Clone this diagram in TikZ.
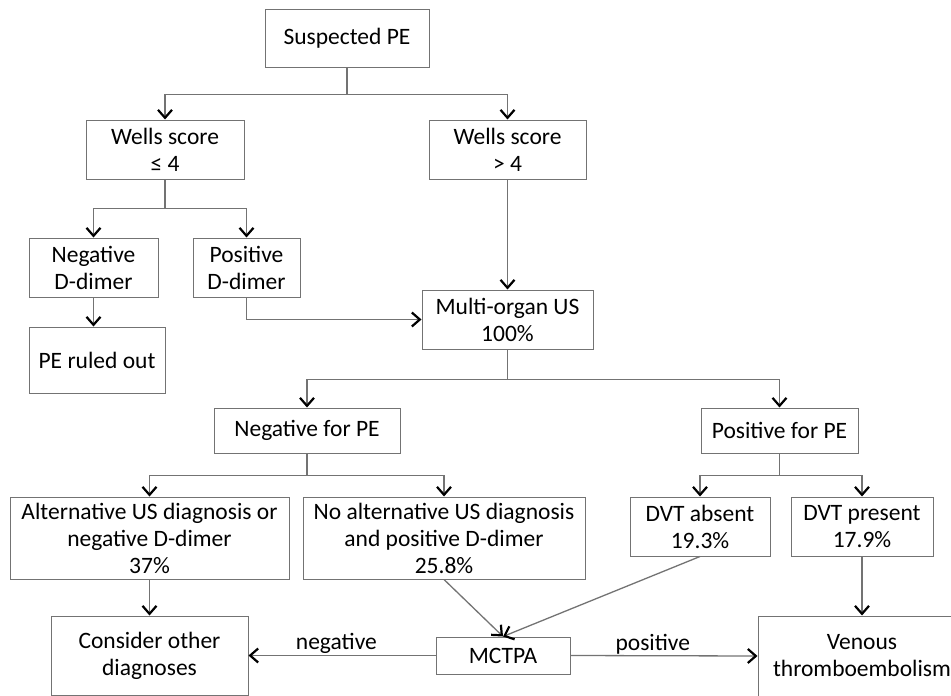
\documentclass[tikz,border=0pt]{standalone}
\usepackage{fontspec}
\setmainfont{Carlito}
\usetikzlibrary{arrows.meta}
\begin{document}
\begin{tikzpicture}[x=1pt,y=-1pt,
  box/.style={draw=black!55, line width=1pt, align=center, inner sep=0pt,
    font=\fontsize{23.5}{27}\selectfont},
  conn/.style={draw=black!55, line width=1.3pt,
    -{Straight Barb[length=8pt,width=14pt,line width=2.2pt,color=black]}},
  lbl/.style={font=\fontsize{23.5}{27}\selectfont, inner sep=1pt}]
\useasboundingbox (0,0) rectangle (951,696);
\node[box, minimum width=164, minimum height=58] (sus) at (347,38) {Suspected PE};
\node[box, minimum width=158, minimum height=59] (w4) at (165,149.5) {Wells score\\≤ 4};
\node[box, minimum width=157, minimum height=59] (wg4) at (507.5,149.5) {Wells score\\> 4};
\node[box, minimum width=129, minimum height=59] (negd) at (93.5,267.5) {Negative\\D-dimer};
\node[box, minimum width=107, minimum height=59] (posd) at (246.5,267.5) {Positive\\D-dimer};
\node[box, minimum width=136, minimum height=66] (ruled) at (97,360) {PE ruled out};
\node[box, minimum width=171, minimum height=59] (mus) at (507.5,319.5) {Multi-organ US\\100\%};
\node[box, minimum width=186, minimum height=45] (negpe) at (307,430.5) {Negative for PE};
\node[box, minimum width=157, minimum height=45] (pospe) at (779.5,430.5) {Positive for PE};
\node[box, minimum width=279, minimum height=82] (alt) at (149.5,538) {Alternative US diagnosis or\\negative D-dimer\\37\%};
\node[box, minimum width=282, minimum height=82] (noalt) at (444,538) {No alternative US diagnosis\\and positive D-dimer\\25.8\%};
\node[box, minimum width=140, minimum height=59] (dvta) at (700,526.5) {DVT absent\\19.3\%};
\node[box, minimum width=142, minimum height=59] (dvtp) at (862,526.5) {DVT present\\17.9\%};
\node[box, minimum width=197, minimum height=79] (cons) at (149.5,655.5) {Consider other\\diagnoses};
\node[box, minimum width=134, minimum height=37] (mct) at (503,655.5) {MCTPA};
\node[box, minimum width=208, minimum height=80] (vte) at (862,656) {Venous\\thromboembolism};

\draw[conn] (sus.south) -- ++(0,27) -| (w4.north);
\draw[conn] (sus.south) -- ++(0,27) -| (wg4.north);
\draw[conn] (w4.south) -- ++(0,29) -| (negd.north);
\draw[conn] (w4.south) -- ++(0,29) -| (posd.north);
\draw[conn] (negd.south) -- (negd.south |- ruled.north);
\draw[conn] (posd.south) |- (mus.west);
\draw[conn] (wg4.south) -- (mus.north);
\draw[conn] (mus.south) -- ++(0,30) -| (negpe.north);
\draw[conn] (mus.south) -- ++(0,30) -| (pospe.north);
\draw[conn] (negpe.south) -- ++(0,22) -| (alt.north);
\draw[conn] (negpe.south) -- ++(0,22) -| (noalt.north);
\draw[conn] (pospe.south) -- ++(0,22) -| (dvta.north);
\draw[conn] (pospe.south) -- ++(0,22) -| (dvtp.north);
\draw[conn] (alt.south) -- (cons.north);
\draw[conn] (noalt.south) -- (mct.north);
\draw[conn] (dvta.south) -- (mct.north);
\draw[conn] (dvtp.south) -- (vte.north);
\draw[conn] (mct.west) -- node[lbl, above, pos=0.53] {negative} (cons.east);
\draw[conn] (mct.east) -- node[lbl, above, pos=0.44] {positive} (vte.west);
\end{tikzpicture}
\end{document}
